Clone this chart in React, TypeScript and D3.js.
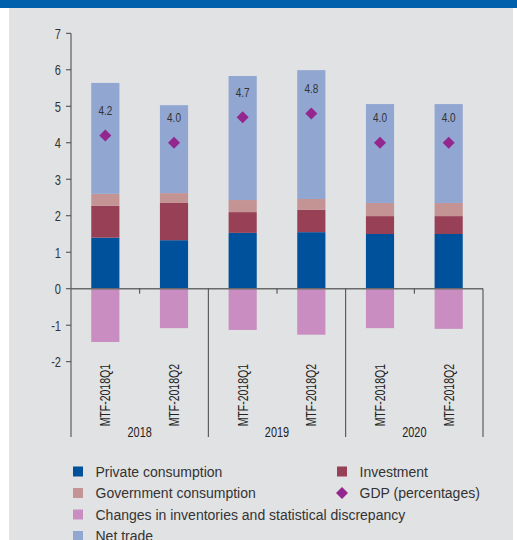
import React from "react";
import * as d3 from "d3";

const categories = ["MTF-2018Q1", "MTF-2018Q2", "MTF-2018Q1", "MTF-2018Q2", "MTF-2018Q1", "MTF-2018Q2"];
const years = ["2018", "2019", "2020"];
const privateConsumption = [1.40, 1.33, 1.53, 1.55, 1.50, 1.50];
const investment = [0.87, 1.02, 0.57, 0.61, 0.49, 0.49];
const governmentConsumption = [0.33, 0.27, 0.33, 0.30, 0.36, 0.36];
const netTrade = [3.04, 2.41, 3.40, 3.53, 2.71, 2.71];
const inventories = [-1.46, -1.08, -1.13, -1.26, -1.08, -1.10];
const gdp = [4.2, 4.0, 4.7, 4.8, 4.0, 4.0];
const gdpLabels = ["4.2", "4.0", "4.7", "4.8", "4.0", "4.0"];
const yTicks = [-2, -1, 0, 1, 2, 3, 4, 5, 6, 7];

const seriesNames = {
  priv: "Private consumption",
  inv: "Investment",
  gov: "Government consumption",
  chg: "Changes in inventories and statistical discrepancy",
  net: "Net trade",
};
const colors: Record<string, string> = {
  priv: "#00519b",
  inv: "#984055",
  gov: "#c49393",
  chg: "#c98dc1",
  net: "#91a6d1",
};
const gdpColor = "#93278f";

const W = 517;
const H = 540;
const font = "'Liberation Sans', Arial, sans-serif";

function NText(props: {
  x: number;
  y: number;
  rotate?: number;
  anchor?: string;
  size: number;
  sq?: number;
  dy?: string;
  fill?: string;
  children: React.ReactNode;
}) {
  const { x, y, rotate = 0, anchor = "start", size, sq = 0.8, dy, fill = "#333", children } = props;
  return (
    <text
      transform={`translate(${x},${y}) rotate(${rotate}) scale(${sq},1)`}
      textAnchor={anchor}
      fontFamily={font}
      fontSize={size}
      dy={dy}
      fill={fill}
    >
      {children}
    </text>
  );
}

export default function App() {
  const left = 71;
  const right = 483;
  const y = d3.scaleLinear().domain([-2, 7]).range([361.7, 33.3]);
  const x = d3
    .scaleBand<number>()
    .domain(categories.map((_, i) => i))
    .range([left, right])
    .paddingInner(0.59)
    .paddingOuter(0.295);
  const groupX = d3.scaleBand<string>().domain(years).range([left, right]);

  const rows = categories.map((_, i) => ({
    priv: privateConsumption[i],
    inv: investment[i],
    gov: governmentConsumption[i],
    chg: inventories[i],
    net: netTrade[i],
  }));
  const keys = ["priv", "inv", "gov", "chg", "net"];
  const stacked = d3.stack<any>().keys(keys).offset(d3.stackOffsetDiverging)(rows);

  const zeroY = y(0);
  const axisBottom = 437;
  const bw = x.bandwidth();

  const legend = [
    { key: "priv", label: seriesNames.priv, col: 0, row: 0 },
    { key: "inv", label: seriesNames.inv, col: 1, row: 0 },
    { key: "gov", label: seriesNames.gov, col: 0, row: 1 },
    { key: "gdp", label: "GDP (percentages)", col: 1, row: 1 },
    { key: "chg", label: seriesNames.chg, col: 0, row: 2 },
    { key: "net", label: seriesNames.net, col: 0, row: 3 },
  ];

  return (
    <svg
      width={W}
      height={H}
      style={{ position: "absolute", left: 0, top: 0, display: "block" }}
    >
      <rect x={0} y={0} width={W} height={H} fill="#ffffff" />
      <rect x={9} y={8} width={504} height={H - 8} fill="#e1e2e4" />
      <rect x={0} y={0} width={W} height={8} fill="#0060ab" />

      {/* bars */}
      {stacked.map((s) => (
        <g key={s.key} fill={colors[s.key]}>
          {s.map((d, i) => {
            const y0 = y(d[0]);
            const y1 = y(d[1]);
            return (
              <rect
                key={i}
                x={x(i)}
                y={Math.min(y0, y1)}
                width={bw}
                height={Math.abs(y1 - y0)}
              />
            );
          })}
        </g>
      ))}

      {/* y axis */}
      <line x1={left} x2={left} y1={y(7)} y2={axisBottom} stroke="#444" strokeWidth={1} />
      {yTicks.map((t) => (
        <g key={t}>
          <line x1={left - 5} x2={left} y1={y(t)} y2={y(t)} stroke="#444" />
          <NText x={left - 10} y={y(t)} dy="0.36em" anchor="end" size={15} sq={0.74} fill="#333">
            {t}
          </NText>
        </g>
      ))}

      {/* x axis */}
      <line x1={left} x2={right} y1={zeroY} y2={zeroY} stroke="#6a6a6a" strokeWidth={1.5} />
      {categories.map((_, i) =>
        i % 2 === 1 ? (
          <line
            key={"mt" + i}
            x1={x(i)! - (x.step() - bw) / 2}
            x2={x(i)! - (x.step() - bw) / 2}
            y1={zeroY}
            y2={zeroY + 5}
            stroke="#444"
          />
        ) : null
      )}
      {years.map((yr) => (
        <line
          key={"sep" + yr}
          x1={groupX(yr)! + groupX.bandwidth()}
          x2={groupX(yr)! + groupX.bandwidth()}
          y1={zeroY}
          y2={axisBottom}
          stroke="#444"
        />
      ))}
      {categories.map((c, i) => (
        <NText
          key={"cat" + i}
          x={x(i)! + bw / 2 + 5}
          y={364}
          rotate={-90}
          anchor="end"
          size={14}
          sq={0.75}
          fill="#222"
        >
          {c}
        </NText>
      ))}
      {years.map((yr) => (
        <NText
          key={"yr" + yr}
          x={groupX(yr)! + groupX.bandwidth() / 2}
          y={436.5}
          anchor="middle"
          size={14}
          sq={0.78}
          fill="#222"
        >
          {yr}
        </NText>
      ))}

      {/* GDP diamonds */}
      {gdp.map((v, i) => {
        const cx = x(i)! + bw / 2;
        const cy = y(v);
        const r = 6;
        return (
          <g key={"gdp" + i}>
            <path
              d={`M${cx},${cy - r}L${cx + r},${cy}L${cx},${cy + r}L${cx - r},${cy}Z`}
              fill={gdpColor}
            />
            <NText x={cx} y={cy - 20.5} anchor="middle" size={12.5} sq={0.8} fill="#333">
              {gdpLabels[i]}
            </NText>
          </g>
        );
      })}

      {/* legend */}
      {legend.map((l) => {
        const lx = l.col === 0 ? 73 : 337;
        const ly = 471.5 + l.row * 21.5;
        return (
          <g key={l.key}>
            {l.key === "gdp" ? (
              <path
                d={`M${lx + 5},${ly - 6}L${lx + 11},${ly}L${lx + 5},${ly + 6}L${lx - 1},${ly}Z`}
                fill={gdpColor}
              />
            ) : (
              <rect x={lx} y={ly - 5} width={10} height={10} fill={colors[l.key]} />
            )}
            <text
              x={lx + 22.5}
              y={ly}
              dy="0.36em"
              fontFamily={font}
              fontSize={14}
              fill="#333"
            >
              {l.label}
            </text>
          </g>
        );
      })}
    </svg>
  );
}
